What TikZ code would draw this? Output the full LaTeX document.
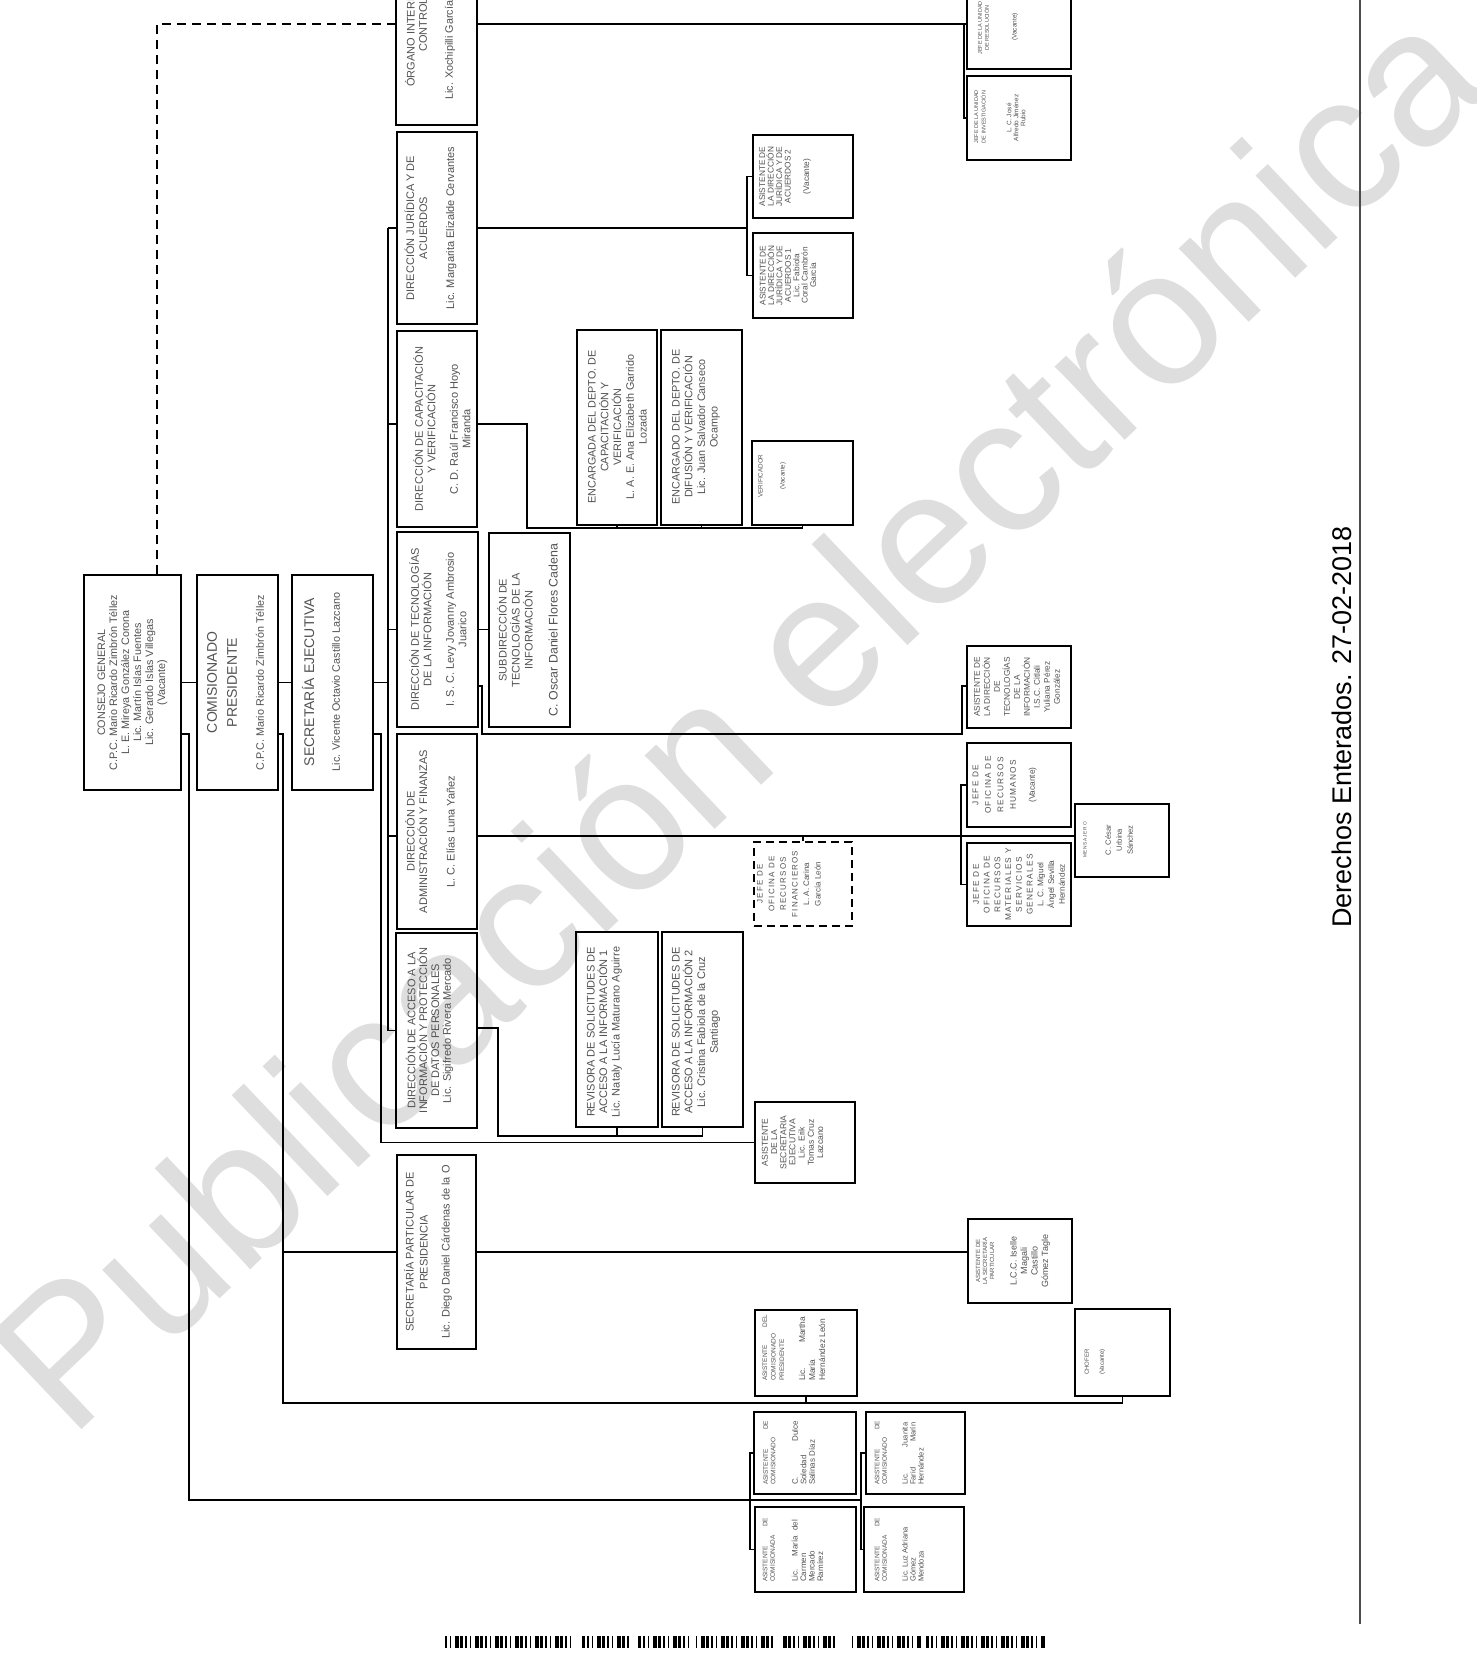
\documentclass[tikz,border=0pt]{standalone}
\usepackage{fontspec}
\setmainfont{Liberation Sans}
\newfontfamily\lspfont[LetterSpace=15]{Liberation Sans}
\usetikzlibrary{fit,calc}
\definecolor{tx}{gray}{0.32}
\definecolor{wmk}{gray}{0.87}
\newcommand\fsz[2]{\fontsize{#1}{#2}\selectfont}
\begin{document}
\begin{tikzpicture}[x=1pt,y=-1pt,
  bx/.style={draw, line width=1.7pt, inner sep=0pt},
  cn/.style={line width=1.6pt},
  txt/.style={rotate=90, align=center, inner sep=0pt, text=tx},
  lft/.style={rotate=90, align=left, anchor=west, inner sep=0pt, text=tx},
  wm/.style={inner sep=0pt, text=wmk, font=\fsz{192}{192}}]
\path[use as bounding box] (0,0) rectangle (1477,1670);
\clip (0,0) rectangle (1477,1670);
\fill[white] (0,0) rectangle (1477,1670);

% watermark
\node[wm, rotate=43.5] (wmark) at (735,714) {Publicación electrónica};

% level coordinates
\coordinate (trk) at (388,0);
\coordinate (trk2) at (381,0);
\coordinate (vc) at (283,0);
\coordinate (vk) at (189,0);
\coordinate (bj) at (747,0);
\coordinate (bo) at (964,0);
\coordinate (ba) at (961,0);
\coordinate (b1) at (750,0);
\coordinate (b2) at (861,0);
\coordinate (cb) at (527,528);
\coordinate (tb) at (482,734);
\coordinate (tb2) at (962,686);
\coordinate (ab) at (498,1136);
\coordinate (dl) at (157,24);
\coordinate (h424) at (0,424);
\coordinate (h686) at (0,686);
\coordinate (h734) at (0,734);
\coordinate (h836) at (0,836);
\coordinate (h1028) at (0,1028);
\coordinate (h1403) at (0,1403);
\coordinate (h1500) at (0,1500);

% boxes
\node[bx, fit={(84,575) (181,790)}] (cons) {};
\node[bx, fit={(197,575) (278,790)}] (comi) {};
\node[bx, fit={(292,575) (373,790)}] (secr) {};
\node[bx, fit={(396,-77) (477,125)}] (oic) {};
\node[bx, fit={(397,132) (477,324)}] (jur) {};
\node[bx, fit={(397,331) (477,527)}] (cap) {};
\node[bx, fit={(397,532) (478,727)}] (tec) {};
\node[bx, fit={(397,734) (477,929)}] (adm) {};
\node[bx, fit={(396,933) (477,1128)}] (acc) {};
\node[bx, fit={(397,1155) (476,1349)}] (spar) {};
\node[bx, fit={(489,533) (570,727)}] (sub) {};
\node[bx, fit={(577,330) (657,525)}] (encc) {};
\node[bx, fit={(661,330) (742,525)}] (encd) {};
\node[bx, fit={(752,441) (853,525)}] (verif) {};
\node[bx, fit={(753,135) (853,218)}] (aj2) {};
\node[bx, fit={(753,233) (853,318)}] (aj1) {};
\node[bx, fit={(967,-15) (1071,69)}] (jres) {};
\node[bx, fit={(967,76) (1071,160)}] (jinv) {};
\node[bx, fit={(967,646) (1071,728)}] (ati) {};
\node[bx, fit={(967,743) (1071,827)}] (jrh) {};
\node[bx, fit={(967,843) (1071,926)}] (jrm) {};
\node[bx, dash pattern=on 8pt off 5pt, fit={(754,842) (852,926)}] (jrf) {};
\node[bx, fit={(1075,804) (1169,877)}] (mens) {};
\node[bx, fit={(576,932) (658,1127)}] (rev1) {};
\node[bx, fit={(662,932) (743,1127)}] (rev2) {};
\node[bx, fit={(755,1102) (855,1183)}] (ase) {};
\node[bx, fit={(968,1219) (1072,1303)}] (asp) {};
\node[bx, fit={(755,1310) (857,1396)}] (acp) {};
\node[bx, fit={(1075,1309) (1170,1396)}] (chof) {};
\node[bx, fit={(754,1412) (856,1494)}] (ac1) {};
\node[bx, fit={(755,1507) (856,1592)}] (ac2) {};
\node[bx, fit={(866,1412) (965,1494)}] (ac3) {};
\node[bx, fit={(864,1507) (964,1592)}] (ac4) {};

% connectors
\draw[cn, dash pattern=on 9pt off 6pt] (cons.north -| dl) -- (dl) -- (dl -| oic.west);
\draw[cn] (oic.east |- dl) -- (dl -| jres.west);
\draw[cn] (dl -| bo) |- (jinv.west);
\draw[cn] (cons.east) -- (comi.west);
\draw[cn] (comi.east) -- (secr.west);
\draw[cn] (secr.east) -- (secr.east -| trk);
\draw[cn] (trk |- jur.west) -- (trk |- acc.west);
\draw[cn] (trk |- jur.west) -- (jur.west);
\draw[cn] (trk |- h424) -- (cap.west |- h424);
\draw[cn] (trk |- tec.west) -- (tec.west);
\draw[cn] (trk |- h836) -- (adm.west |- h836);
\draw[cn] (trk |- acc.west) -- (acc.west);
\draw[cn] (secr.east |- h734) -| (trk2 |- ase.west) -- (ase.west);
\draw[cn] (comi.east |- h734) -| (vc |- h1403) -| (chof.south);
\draw[cn] (acp.south) -- (acp.south |- h1403);
\draw[cn] (vc |- spar.west) -- (spar.west);
\draw[cn] (spar.east) -- (spar.east -| asp.west);
\draw[cn] (cons.east |- h734) -| (vk |- h1500) -- (b2 |- h1500);
\draw[cn] (ac1.west) -| (b1 |- ac2.west) -- (ac2.west);
\draw[cn] (ac3.west) -| (b2 |- ac4.west) -- (ac4.west);
\draw[cn] (jur.east) -- (jur.east -| bj);
\draw[cn] (aj2.west) -| (bj |- aj1.west) -- (aj1.west);
\draw[cn] (cap.east |- h424) -| (cb) -- (cb -| verif.south) -- (verif.south);
\draw[cn] (encc.south) -- (encc.south |- cb);
\draw[cn] (encd.south) -- (encd.south |- cb);
\draw[cn] (tec.east) -- (tec.east -| sub.west);
\draw[cn] (tec.east |- h686) -| (tb) -| (tb2) -- (tb2 -| ati.west);
\draw[cn] (adm.east |- h836) -- (mens.west |- h836);
\draw[cn] (jrf.north) -- (jrf.north |- h836);
\draw[cn] (jrh.west) -| (ba |- jrm.west) -- (jrm.west);
\draw[cn] (acc.east |- h1028) -| (ab) -| (rev2.south);
\draw[cn] (rev1.south) -- (rev1.south |- ab);

% texts
\node[txt, font=\fsz{10.8}{12}] (tcons) at (cons.center) {CONSEJO GENERAL\\C.P.C. Mario Ricardo Zimbrón Téllez\\L. E. Mireya González Corona\\Lic. Martín Islas Fuentes\\Lic. Gerardo Islas Villegas\\(Vacante)};
\node[txt, font=\fsz{14}{20}] (tcomi) at (222,682.5) {COMISIONADO\\PRESIDENTE};
\node[txt, font=\fsz{10.8}{12}] (tcomin) at (260,682.5) {C.P.C. Mario Ricardo Zimbrón Téllez};
\node[txt, font=\fsz{14}{16}] (tsecr) at (308,682) {SECRETARÍA EJECUTIVA};
\node[txt, font=\fsz{10.8}{12}] (tsecrn) at (336,682) {Lic. Vicente Octavio Castillo Lazcano};

\node[txt, font=\fsz{11}{13}, anchor=west] (toic1) at (410,87) {ÓRGANO INTERNO DE};
\node[txt, font=\fsz{11}{13}] (toic2) at (423,25) {CONTROL};
\node[txt, font=\fsz{10.8}{12}, anchor=west] (toic3) at (450,100) {Lic. Xochipilli García};

\node[txt, font=\fsz{11}{13}] (tjur) at (430.5,228) {DIRECCIÓN JURÍDICA Y DE\\ACUERDOS\\[14pt]Lic. Margarita Elizalde Cervantes};
\node[txt, font=\fsz{11}{12.5}] (tcap) at (442,429) {DIRECCIÓN DE CAPACITACIÓN\\Y VERIFICACIÓN\\[10pt]C. D. Raúl Francisco Hoyo\\Miranda};
\node[txt, font=\fsz{11}{12.5}] (ttec) at (438,629.5) {DIRECCIÓN DE TECNOLOGÍAS\\DE LA INFORMACIÓN\\[10pt]I. S. C. Levy Jovanny Ambrosio\\Juarico};
\node[txt, font=\fsz{11}{12.5}] (tadm) at (430,831.5) {DIRECCIÓN DE\\ADMINISTRACIÓN Y FINANZAS\\[15pt]L. C. Elías Luna Yañez};
\node[txt, font=\fsz{11}{11.8}] (tacc) at (429.5,1030.5) {DIRECCIÓN DE ACCESO A LA\\INFORMACIÓN Y PROTECCIÓN\\DE DATOS PERSONALES\\Lic. Sigifredo Rivera Mercado};
\node[txt, font=\fsz{11}{14}] (tspar) at (428,1252) {SECRETARÍA PARTICULAR DE\\PRESIDENCIA\\[8pt]Lic. Diego Daniel Cárdenas de la O};
\node[txt, font=\fsz{11}{13}] (tsub) at (527.5,630) {SUBDIRECCIÓN DE\\TECNOLOGÍAS DE LA\\INFORMACIÓN\\[12pt]{\fsz{12.4}{13}C. Oscar Daniel Flores Cadena}};
\node[txt, font=\fsz{10.8}{12.75}] (tencc) at (617.5,427) {ENCARGADA DEL DEPTO. DE\\CAPACITACIÓN Y\\VERIFICACIÓN\\L. A. E. Ana Elizabeth Garrido\\Lozada};
\node[txt, font=\fsz{10.8}{12.7}] (tencd) at (696,427) {ENCARGADO DEL DEPTO. DE\\DIFUSIÓN Y VERIFICACIÓN\\Lic. Juan Salvador Canseco\\Ocampo};
\node[txt, font=\fsz{11}{12.5}] (trev1) at (604.5,1032) {REVISORA DE SOLICITUDES DE\\ACCESO A LA INFORMACIÓN 1\\Lic. Nataly Lucía Maturano Aguirre};
\node[txt, font=\fsz{11}{12.7}] (trev2) at (696,1032) {REVISORA DE SOLICITUDES DE\\ACCESO A LA INFORMACIÓN 2\\Lic. Cristina Fabiola de la Cruz\\Santiago};

\node[txt, font=\fsz{8.3}{8.5}] (taj2) at (785,176.5) {ASISTENTE DE\\LA DIRECCIÓN\\JURÍDICA Y DE\\ACUERDOS 2\\[10pt](Vacante)};
\node[txt, font=\fsz{8.3}{8.4}] (taj1) at (788,275.5) {ASISTENTE DE\\LA DIRECCIÓN\\JURÍDICA Y DE\\ACUERDOS 1\\Lic. Fabiola\\Coral Cambrón\\García};
\node[txt, font=\fsz{6.3}{7}] (tverif) at (772,476) {VERIFICADOR\\[15pt](Vacante)};
\node[txt, font=\fsz{5.5}{7}] (tjres) at (983.5,28) {JEFE DE LA UNIDAD\\DE RESOLUCIÓN};
\node[txt, font=\fsz{6.5}{7.5}] (tjresv) at (1015,27) {(Vacante)};
\node[txt, font=\fsz{5.5}{7.5}] (tjinv) at (980,117) {JEFE DE LA UNIDAD\\DE INVESTIGACIÓN};
\node[txt, font=\fsz{6.5}{7}] (tjinvn) at (1016,118) {L. C. José\\Alfredo Jiménez\\Rubio};
\node[txt, font=\fsz{8.3}{10}] (tati) at (1017,687) {ASISTENTE DE\\LA DIRECCIÓN\\DE\\TECNOLOGÍAS\\DE LA\\INFORMACIÓN\\I.S.C. Citlali\\Yuliana Pérez\\González};
\node[txt, font=\fsz{8.3}{12.5}] (tjrh) at (1004.5,785) {{\lspfont JEFE DE}\\{\lspfont OFICINA DE}\\{\lspfont RECURSOS}\\{\lspfont HUMANOS}\\[6.5pt](Vacante)};
\node[txt, font=\fsz{8.3}{10.75}] (tjrm) at (1019,884.5) {{\lspfont JEFE DE}\\{\lspfont OFICINA DE}\\{\lspfont RECURSOS}\\{\lspfont MATERIALES Y}\\{\lspfont SERVICIOS}\\{\lspfont GENERALES}\\L. C. Miguel\\Ángel Sevilla\\Hernández};
\node[txt, font=\fsz{8}{11.6}] (tjrf) at (789,884) {{\lspfont JEFE DE}\\{\lspfont OFICINA DE}\\{\lspfont RECURSOS}\\{\lspfont FINANCIEROS}\\L. A. Carina\\García León};
\node[txt, font=\fsz{4.8}{6}] (tmens1) at (1085,840) {\lspfont MENSAJERO};
\node[txt, font=\fsz{7.6}{11}] (tmens2) at (1119,840) {C. César\\Urbina\\Sánchez};
\node[txt, font=\fsz{8.6}{9.2}] (tase) at (792.5,1142.5) {ASISTENTE\\DE LA\\SECRETARIA\\EJECUTIVA\\Lic. Erik\\Tomas Cruz\\Lazcano};
\node[txt, font=\fsz{6}{7}] (tasp1) at (985,1261) {ASISTENTE DE\\LA SECRETARÍA\\PARTICULAR};
\node[txt, font=\fsz{9}{10.5}] (tasp2) at (1030,1261) {L.C.C. Iselle\\Magali\\Castillo\\Gómez Tagle};

\node[lft, font=\fsz{6.5}{8.5}] (tacp1) at (773.5,1381) {\makebox[66pt][s]{ASISTENTE DEL}\\COMISIONADO\\PRESIDENTE};
\node[lft, font=\fsz{8.4}{10}] (tacp2) at (812,1381) {\makebox[64pt][s]{Lic. Martha}\\María\\Hernández León};
\node[lft, font=\fsz{6.5}{7.5}] (tac1a) at (769.5,1485) {\makebox[64pt][s]{ASISTENTE DE}\\COMISIONADO};
\node[lft, font=\fsz{8}{8.5}] (tac1b) at (803.5,1485) {\makebox[64pt][s]{C. Dulce}\\Soledad\\Salinas Díaz};
\node[lft, font=\fsz{6.5}{7.5}] (tac2a) at (769,1582) {\makebox[64pt][s]{ASISTENTE DE}\\COMISIONADA};
\node[lft, font=\fsz{8}{8.5}] (tac2b) at (807.5,1582) {\makebox[62pt][s]{Lic. María del}\\Carmen\\Mercado\\Ramírez};
\node[lft, font=\fsz{6.5}{7.5}] (tac3a) at (881,1485) {\makebox[64pt][s]{ASISTENTE DE}\\COMISIONADO};
\node[lft, font=\fsz{7.5}{8}] (tac3b) at (913,1485) {\makebox[62pt][s]{Lic. Juanita}\\\makebox[62pt][s]{Farid Marín}\\Hernández};
\node[lft, font=\fsz{6.5}{7.5}] (tac4a) at (881,1582) {\makebox[64pt][s]{ASISTENTE DE}\\COMISIONADA};
\node[lft, font=\fsz{7.5}{8}] (tac4b) at (913,1582) {Lic. Luz Adriana\\Gómez\\Mendoza};
\node[lft, font=\fsz{6}{7}] (tchof) at (1095,1375) {CHOFER\\[8pt](Vacante)};

% right rule and stamp
\coordinate (rl1) at (1360,0);
\coordinate (rl2) at (1360,1624);
\draw[line width=1.3pt, black!70] (rl1) -- (rl2);
\node[rotate=90, anchor=base, inner sep=0pt, font=\fsz{27}{30}] (der) at (1351,727) {Derechos Enterados. 27-02-2018};

% barcode
\foreach \gx/\gw in {445/127, 582/48, 638/50, 696/79, 783/54, 852/66, 926/119}{
  \pgfmathtruncatemacro\nb{\gw/5}
  \foreach \i in {0,...,\nb}{
    \pgfmathsetmacro\bw{1.3+mod(\i*7+\gx,4)*0.8}
    \fill (\gx+\i*5,1636) rectangle ++(\bw,12);
  }
}
\end{tikzpicture}
\end{document}
